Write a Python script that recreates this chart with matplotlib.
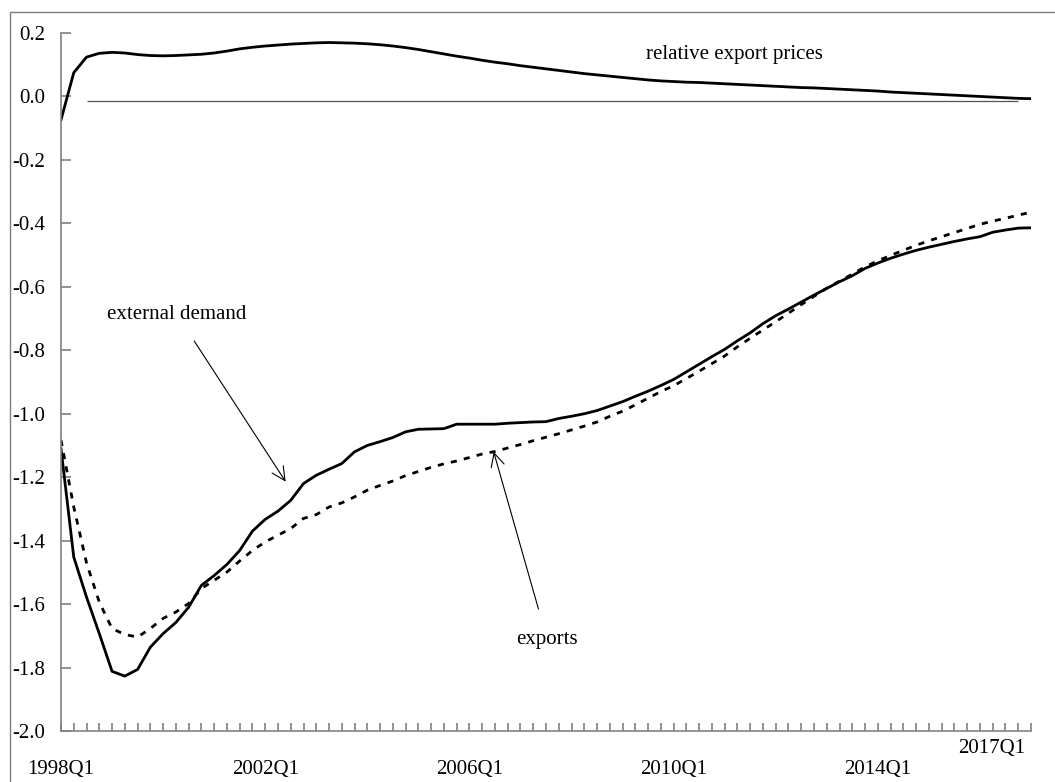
import matplotlib
matplotlib.use("Agg")
import matplotlib.pyplot as plt
from matplotlib.patches import Rectangle
import numpy as np

# quarterly series, 1998Q1 .. 2017Q1
quarters = ["%dQ%d" % (1998 + i // 4, i % 4 + 1) for i in range(77)]

rel_export_prices = [
    -0.074, 0.075, 0.124, 0.136, 0.139, 0.137, 0.132, 0.129, 0.128, 0.129,
    0.131, 0.133, 0.137, 0.143, 0.150, 0.155, 0.159, 0.162, 0.165, 0.167,
    0.169, 0.170, 0.169, 0.168, 0.166, 0.163, 0.159, 0.154, 0.148, 0.141,
    0.134, 0.127, 0.121, 0.114, 0.108, 0.103, 0.097, 0.092, 0.087, 0.082,
    0.077, 0.072, 0.068, 0.064, 0.060, 0.056, 0.052, 0.049, 0.047, 0.045,
    0.044, 0.042, 0.040, 0.038, 0.036, 0.034, 0.032, 0.030, 0.028, 0.027,
    0.025, 0.023, 0.021, 0.019, 0.017, 0.014, 0.012, 0.010, 0.008, 0.006,
    0.004, 0.002, 0.000, -0.002, -0.004, -0.006, -0.007]

external_demand = [
    -1.110, -1.452, -1.578, -1.693, -1.812, -1.827, -1.806, -1.736, -1.693, -1.658,
    -1.610, -1.541, -1.510, -1.475, -1.431, -1.370, -1.333, -1.307, -1.273, -1.220,
    -1.194, -1.175, -1.157, -1.120, -1.100, -1.088, -1.075, -1.057, -1.049, -1.048,
    -1.047, -1.033, -1.033, -1.033, -1.033, -1.030, -1.028, -1.026, -1.025, -1.015,
    -1.008, -1.000, -0.990, -0.976, -0.962, -0.945, -0.929, -0.911, -0.892, -0.868,
    -0.844, -0.820, -0.797, -0.770, -0.745, -0.716, -0.691, -0.670, -0.648, -0.626,
    -0.605, -0.584, -0.565, -0.542, -0.525, -0.510, -0.497, -0.485, -0.475, -0.466,
    -0.457, -0.449, -0.442, -0.428, -0.421, -0.415, -0.414]

exports = [
    -1.083, -1.294, -1.470, -1.594, -1.677, -1.696, -1.704, -1.677, -1.645, -1.625,
    -1.598, -1.551, -1.525, -1.499, -1.464, -1.431, -1.404, -1.383, -1.362, -1.330,
    -1.318, -1.294, -1.281, -1.262, -1.241, -1.226, -1.212, -1.195, -1.182, -1.169,
    -1.158, -1.149, -1.138, -1.127, -1.119, -1.108, -1.097, -1.085, -1.074, -1.063,
    -1.051, -1.039, -1.026, -1.008, -0.992, -0.972, -0.951, -0.930, -0.912, -0.889,
    -0.866, -0.842, -0.818, -0.789, -0.762, -0.736, -0.710, -0.683, -0.656, -0.630,
    -0.604, -0.582, -0.560, -0.537, -0.518, -0.501, -0.485, -0.469, -0.455, -0.442,
    -0.429, -0.416, -0.403, -0.393, -0.384, -0.374, -0.365]

y_ticks = [-2.0, -1.8, -1.6, -1.4, -1.2, -1.0, -0.8, -0.6, -0.4, -0.2, 0.0, 0.2]
baseline_value = -0.015
label_every = 16

plt.rcParams['font.family'] = ['Liberation Serif', 'DejaVu Serif']
plt.rcParams['font.size'] = 15

W, H = 1055, 782
fig = plt.figure(figsize=(W / 100, H / 100), dpi=100)
fig.patches.append(Rectangle((9.5 / W, -0.05), 1.1, 1.05 - 12.5 / H, transform=fig.transFigure,
                             fill=False, edgecolor='#7f7f7f', lw=1.0))
ax = fig.add_axes([61 / W, 1 - 731 / H, 970 / W, 698 / H])

x = np.arange(len(quarters))
ax.hlines(baseline_value, 2, len(quarters) - 2, colors='#555555', lw=0.9)
ax.plot(x, rel_export_prices, color='black', lw=2.0, solid_joinstyle='round')
ax.plot(x, external_demand, color='black', lw=2.0, solid_joinstyle='round')
ax.plot(x, exports, color='black', lw=2.0, linestyle=(0, (2.2, 2.6)))

ax.set_xlim(0, len(quarters) - 1)
ax.set_ylim(-2.0, 0.2)
ax.set_yticks(y_ticks)
ax.set_yticklabels(["%.1f" % v for v in y_ticks])
ax.set_xticks(x)
ax.set_xticklabels([q if (i % label_every == 0 and i < 70) else "" for i, q in enumerate(quarters)])

for s in ['top', 'right']:
    ax.spines[s].set_visible(False)
for s in ['left', 'bottom']:
    ax.spines[s].set_color('#808080')
    ax.spines[s].set_linewidth(1.2)
ax.tick_params(axis='y', direction='in', length=7, width=1.2, color='#808080', pad=11.5)
ax.tick_params(axis='x', direction='in', length=6, width=1.2, color='#808080', pad=21)

ax.annotate(quarters[-1], xy=(len(quarters) - 1, 0), xycoords=('data', 'axes fraction'),
            xytext=(-6, -17), textcoords='offset pixels', ha='right', va='center')

ax.text(52.8, 0.132, "relative export prices", ha='center', va='center')
ax.annotate("external demand", xy=(17.6, -1.214), xytext=(9.1, -0.688),
            ha='center', va='center',
            arrowprops=dict(arrowstyle='->', lw=0.8, color='black', mutation_scale=24,
                            shrinkA=12, shrinkB=0))
ax.annotate("exports", xy=(33.9, -1.12), xytext=(38.1, -1.713),
            ha='center', va='center',
            arrowprops=dict(arrowstyle='->', lw=0.8, color='black', mutation_scale=24,
                            shrinkA=14, shrinkB=0))

fig.savefig("out.png", dpi=100)
